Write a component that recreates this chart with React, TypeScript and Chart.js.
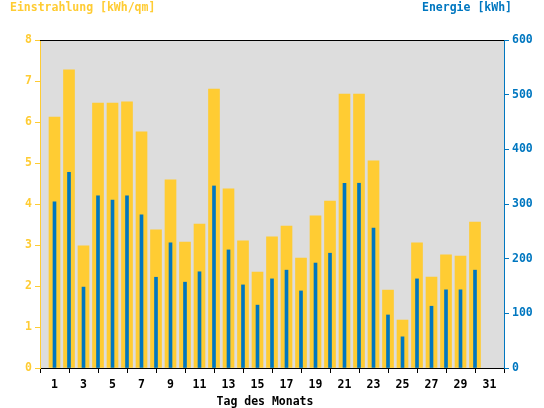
import React, { useEffect, useRef } from 'react';
import { Chart, registerables } from 'chart.js';

Chart.register(...registerables);

const days = [1, 2, 3, 4, 5, 6, 7, 8, 9, 10, 11, 12, 13, 14, 15, 16, 17, 18, 19, 20, 21, 22, 23, 24, 25, 26, 27, 28, 29, 30];
const irradiation = [6.12, 7.27, 2.98, 6.46, 6.46, 6.49, 5.76, 3.37, 4.59, 3.07, 3.51, 6.8, 4.37, 3.1, 2.34, 3.2, 3.46, 2.68, 3.71, 4.07, 6.68, 6.68, 5.05, 1.9, 1.17, 3.05, 2.22, 2.76, 2.73, 3.56];
const energy = [304, 358, 148, 315, 307, 315, 280, 166, 229, 157, 176, 333, 216, 152, 115, 163, 179, 141, 192, 210, 338, 338, 256, 97, 57, 163, 113, 143, 143, 179];

const leftTitle = 'Einstrahlung [kWh/qm]';
const rightTitle = 'Energie [kWh]';
const xTitle = 'Tag des Monats';

const YELLOW = '#FFCC33';
const BLUE = '#0077C0';
const GRAY = '#DDDDDD';
const FONT_FAMILY = "'DejaVu Sans Mono', 'Liberation Mono', monospace";
const FONT = { family: FONT_FAMILY, size: 11.5, weight: 'bold' as const };

const titlePlugin = {
  id: 'customTitles',
  beforeDraw(chart: any) {
    const ctx = chart.ctx;
    const a = chart.chartArea;
    ctx.save();
    ctx.fillStyle = '#FFFFFF';
    ctx.fillRect(0, 0, chart.width, chart.height);
    ctx.fillStyle = GRAY;
    ctx.fillRect(a.left, a.top, a.right - a.left, a.bottom - a.top);
    ctx.restore();
  },
  afterDraw(chart: any) {
    const ctx = chart.ctx;
    const a = chart.chartArea;
    ctx.save();
    ctx.fillStyle = '#000000';
    ctx.fillRect(a.left, a.top, a.right - a.left, 1);
    ctx.font = `bold 11.5px ${FONT_FAMILY}`;
    ctx.textBaseline = 'alphabetic';
    ctx.fillStyle = YELLOW;
    ctx.textAlign = 'left';
    ctx.fillText(leftTitle, 10, 11);
    ctx.fillStyle = BLUE;
    ctx.textAlign = 'right';
    ctx.fillText(rightTitle, 512, 11);
    ctx.fillStyle = '#000000';
    ctx.textAlign = 'center';
    ctx.fillText(xTitle, 265, 405);
    ctx.restore();
  },
};

export default function App() {
  const ref = useRef<HTMLCanvasElement | null>(null);

  useEffect(() => {
    document.body.style.margin = '0';
    const canvas = ref.current;
    if (!canvas) return;
    const chart = new Chart(canvas, {
      type: 'bar',
      data: {
        datasets: [
          {
            label: 'Energie',
            data: days.map((d, i) => ({ x: d, y: energy[i] })),
            backgroundColor: BLUE,
            barThickness: 3,
            yAxisID: 'y1',
            order: 0,
            grouped: false,
          } as any,
          {
            label: 'Einstrahlung',
            data: days.map((d, i) => ({ x: d, y: irradiation[i] })),
            backgroundColor: YELLOW,
            barThickness: 11,
            yAxisID: 'y',
            order: 1,
            grouped: false,
          } as any,
        ],
      },
      options: {
        responsive: false,
        animation: false,
        devicePixelRatio: 1,
        layout: { padding: { top: 40, left: 0, right: 0, bottom: 0 } },
        plugins: { legend: { display: false }, tooltip: { enabled: false }, title: { display: false } },
        scales: {
          x: {
            type: 'linear',
            min: 0,
            max: 32,
            offset: false,
            afterFit: (s: any) => { s.height = 40; },
            ticks: {
              stepSize: 1,
              autoSkip: false,
              maxRotation: 0,
              color: '#000000',
              font: FONT,
              padding: 5,
              callback: (v: any) => (Number(v) % 2 === 1 && Number(v) <= 31 ? String(v) : ''),
            },
            grid: {
              offset: false,
              drawOnChartArea: false,
              drawTicks: true,
              tickLength: 5,
              color: (c: any) => (c.tick && Number(c.tick.value) % 2 === 0 ? '#000000' : 'rgba(0,0,0,0)'),
            },
            border: { display: true, color: '#000000', width: 1 },
          },
          y: {
            type: 'linear',
            position: 'left',
            min: 0,
            max: 8,
            afterFit: (s: any) => { s.width = 40; },
            ticks: { stepSize: 1, color: YELLOW, font: FONT, padding: 3 },
            grid: { drawOnChartArea: false, drawTicks: true, tickLength: 5, color: YELLOW },
            border: { display: true, color: YELLOW, width: 1 },
          },
          y1: {
            type: 'linear',
            position: 'right',
            min: 0,
            max: 600,
            afterFit: (s: any) => { s.width = 40; },
            ticks: { stepSize: 100, color: BLUE, font: FONT, padding: 3 },
            grid: { drawOnChartArea: false, drawTicks: true, tickLength: 5, color: BLUE },
            border: { display: true, color: BLUE, width: 1 },
          },
        },
      } as any,
      plugins: [titlePlugin],
    });
    return () => chart.destroy();
  }, []);

  return (
    <div style={{ width: 544, height: 408 }}>
      <canvas ref={ref} width={544} height={408} style={{ display: 'block' }} />
    </div>
  );
}
